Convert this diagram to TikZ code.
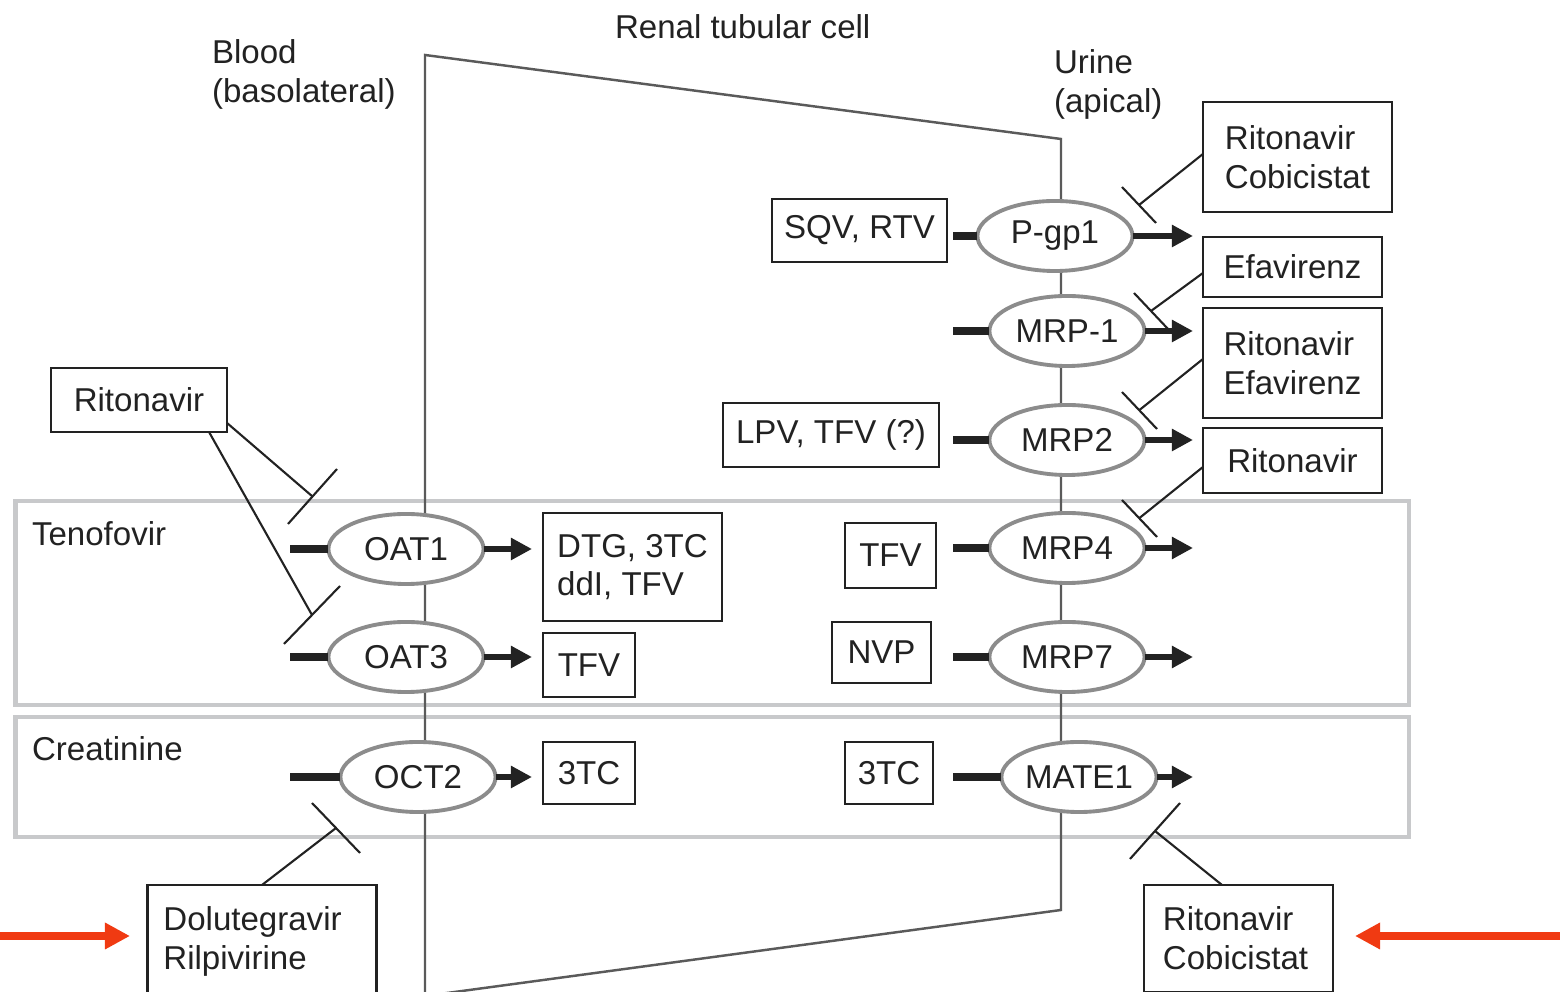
\documentclass[tikz,border=0pt]{standalone}
\usepackage{fontspec}
\setmainfont{Liberation Sans}
\usetikzlibrary{shapes.geometric,arrows.meta}
\definecolor{txt}{HTML}{222222}
\definecolor{cellgray}{HTML}{5A5A5A}
\definecolor{elgray}{HTML}{8C8C8C}
\definecolor{boxgray}{HTML}{C8C9CB}
\definecolor{redarrow}{RGB}{240,58,18}
\begin{document}
\begin{tikzpicture}[x=0.01cm,y=-0.01cm,
  every node/.style={font=\fontsize{9.4pt}{11pt}\selectfont, text=txt, outer sep=0pt},
  transporter/.style={ellipse, draw=elgray, line width=1.1pt, fill=white, minimum width=1.55cm, minimum height=0.70cm, inner sep=0pt},
  drugbox/.style={draw=txt, line width=0.8pt, fill=white, inner sep=0pt, align=left},
  freetext/.style={inner sep=0pt, anchor=north west, align=left},
  cellline/.style={draw=cellgray, line width=0.7pt},
  grayframe/.style={draw=boxgray, line width=1.4pt},
  entrybar/.style={draw=txt, line width=2pt},
  efflux/.style={draw=txt, line width=1.6pt, -{Triangle[length=0.21cm,width=0.21cm]}},
  inhibit/.style={draw=txt, line width=0.6pt},
  inhbar/.style={draw=txt, line width=0.6pt},
  redarrowstyle/.style={draw=redarrow, line width=2pt, -{Triangle[length=0.25cm,width=0.25cm]}},
]
\useasboundingbox (0,0) rectangle (1560,992);
\clip (0,0) rectangle (1560,992);

% grouping frames
\draw[grayframe] (15.5,501) rectangle (1409,705);
\draw[grayframe] (15.5,717) rectangle (1409,837);

% cell outline
\draw[cellline] (425,996) -- (425,55) -- (1061,139) -- (1061,910) -- cycle;

% free labels
\node[freetext] (blood) at (212,40) {Blood\\(basolateral)};
\node[freetext] (cell) at (615,15) {Renal tubular cell};
\node[freetext] (urine) at (1054,50) {Urine\\(apical)};
\node[freetext] (teno) at (32,522) {Tenofovir};
\node[freetext] (crea) at (32,737) {Creatinine};

% transporters
\node[transporter] (pgp) at (1055,236) {P-gp1};
\node[transporter] (mrp1) at (1067,331) {MRP-1};
\node[transporter] (mrp2) at (1067,440) {MRP2};
\node[transporter] (mrp4) at (1067,548) {MRP4};
\node[transporter] (mrp7) at (1067,657) {MRP7};
\node[transporter] (mate) at (1079,777) {MATE1};
\node[transporter] (oat1) at (406,549) {OAT1};
\node[transporter] (oat3) at (406,657) {OAT3};
\node[transporter] (oct2) at (418,777) {OCT2};

% substrate boxes
\node[drugbox, minimum width=1.75cm, minimum height=0.63cm] (sqv) at (859.5,230.5) {SQV, RTV};
\node[drugbox, minimum width=2.16cm, minimum height=0.64cm] (lpv) at (831,435) {LPV, TFV (?)};
\node[drugbox, minimum width=1.79cm, minimum height=1.08cm] (dtg) at (632.5,567) {DTG, 3TC\\ddI, TFV};
\node[drugbox, minimum width=0.91cm, minimum height=0.65cm] (tfvr) at (890.5,555.5) {TFV};
\node[drugbox, minimum width=0.99cm, minimum height=0.61cm] (nvp) at (881.5,652.5) {NVP};
\node[drugbox, minimum width=0.92cm, minimum height=0.64cm] (tfvl) at (589,665) {TFV};
\node[drugbox, minimum width=0.92cm, minimum height=0.62cm] (tcl) at (589,773) {3TC};
\node[drugbox, minimum width=0.88cm, minimum height=0.62cm] (tcr) at (889,773) {3TC};

% inhibitor boxes
\node[drugbox, minimum width=1.76cm, minimum height=0.64cm] (ritl) at (139,400) {Ritonavir};
\node[drugbox, minimum width=1.89cm, minimum height=1.10cm] (rc1) at (1297.5,157) {Ritonavir\\Cobicistat};
\node[drugbox, minimum width=1.79cm, minimum height=0.60cm] (efa) at (1292.5,267) {Efavirenz};
\node[drugbox, minimum width=1.79cm, minimum height=1.10cm] (re) at (1292.5,363) {Ritonavir\\Efavirenz};
\node[drugbox, minimum width=1.79cm, minimum height=0.65cm] (ritr) at (1292.5,460.5) {Ritonavir};
\node[drugbox, anchor=north, text width=1.97cm, inner xsep=0.16cm, inner ysep=0.22cm] (dol) at (262,885) {Dolutegravir\\Rilpivirine};
\node[drugbox, anchor=north, text width=1.51cm, inner xsep=0.19cm, inner ysep=0.22cm] (rc2) at (1238.5,885) {Ritonavir\\Cobicistat};

% entry bars
\coordinate (e_oat1) at (290,549);
\coordinate (e_oat3) at (290,657);
\coordinate (e_oct2) at (290,777);
\coordinate (e_pgp) at (953,236);
\coordinate (e_mrp1) at (953,331);
\coordinate (e_mrp2) at (953,440);
\coordinate (e_mrp4) at (953,548);
\coordinate (e_mrp7) at (953,657);
\coordinate (e_mate) at (953,777);
\draw[entrybar] (e_oat1) -- (oat1.west);
\draw[entrybar] (e_oat3) -- (oat3.west);
\draw[entrybar] (e_oct2) -- (oct2.west);
\draw[entrybar] (e_pgp) -- (pgp.west);
\draw[entrybar] (e_mrp1) -- (mrp1.west);
\draw[entrybar] (e_mrp2) -- (mrp2.west);
\draw[entrybar] (e_mrp4) -- (mrp4.west);
\draw[entrybar] (e_mrp7) -- (mrp7.west);
\draw[entrybar] (e_mate) -- (mate.west);

% efflux arrows
\coordinate (x_oat1) at (532,549);
\coordinate (x_oat3) at (532,657);
\coordinate (x_oct2) at (532,777);
\coordinate (x_pgp) at (1193,236);
\coordinate (x_mrp1) at (1193,331);
\coordinate (x_mrp2) at (1193,440);
\coordinate (x_mrp4) at (1193,548);
\coordinate (x_mrp7) at (1193,657);
\coordinate (x_mate) at (1193,777);
\draw[efflux] (oat1.east) -- (x_oat1);
\draw[efflux] (oat3.east) -- (x_oat3);
\draw[efflux] (oct2.east) -- (x_oct2);
\draw[efflux] (pgp.east) -- (x_pgp);
\draw[efflux] (mrp1.east) -- (x_mrp1);
\draw[efflux] (mrp2.east) -- (x_mrp2);
\draw[efflux] (mrp4.east) -- (x_mrp4);
\draw[efflux] (mrp7.east) -- (x_mrp7);
\draw[efflux] (mate.east) -- (x_mate);

% inhibition: connector to bar centre, then the bar
\coordinate (i_pgp) at (1139,205);
\coordinate (i_mrp1) at (1151,311);
\coordinate (i_mrp2) at (1139.5,410);
\coordinate (i_mrp4) at (1139.5,518);
\coordinate (i_oat1) at (312.5,496.5);
\coordinate (i_oat3) at (312,615);
\coordinate (i_oct2) at (336,828);
\coordinate (i_mate) at (1155,831);
\draw[inhibit] ([yshift=0.03cm]rc1.west) -- (i_pgp);
\draw[inhibit] ([yshift=-0.06cm]efa.west) -- (i_mrp1);
\draw[inhibit] ([yshift=0.04cm]re.west) -- (i_mrp2);
\draw[inhibit] ([yshift=-0.065cm]ritr.west) -- (i_mrp4);
\draw[inhibit] ([yshift=0.09cm]ritl.south east) -- (i_oat1);
\draw[inhibit] ([xshift=-0.18cm]ritl.south east) -- (i_oat3);
\draw[inhibit] (dol.north) -- (i_oct2);
\draw[inhibit] ([xshift=-0.165cm]rc2.north) -- (i_mate);
\draw[inhbar] (1122,187) -- (1156,223);
\draw[inhbar] (1134,293) -- (1168,329);
\draw[inhbar] (1122,392) -- (1157,429);
\draw[inhbar] (1122,500) -- (1157,537);
\draw[inhbar] (288,524) -- (337,469);
\draw[inhbar] (284,644) -- (340,586);
\draw[inhbar] (312,803) -- (360,853);
\draw[inhbar] (1130,859) -- (1180,803);

% red pointer arrows
\coordinate (ra_l0) at (0,936);
\coordinate (ra_l1) at (130,936);
\coordinate (ra_r0) at (1560,936);
\coordinate (ra_r1) at (1355,936);
\draw[redarrowstyle] (ra_l0) -- (ra_l1);
\draw[redarrowstyle] (ra_r0) -- (ra_r1);
\end{tikzpicture}
\end{document}
